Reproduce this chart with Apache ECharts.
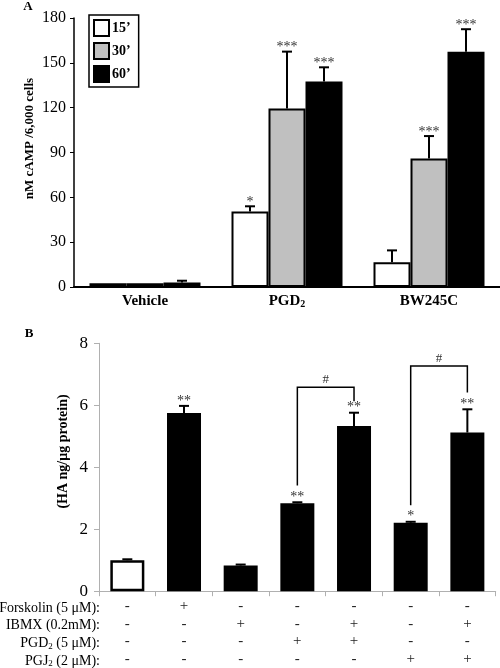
<!DOCTYPE html>
<html><head><meta charset="utf-8">
<script src="https://cdn.jsdelivr.net/npm/echarts@6/dist/echarts.min.js"></script>
<style>html,body{margin:0;padding:0;background:#fff}#c{width:500px;height:668px}</style>
</head><body><div id="c"></div>
<script>
const FONT = '"Liberation Serif", "Times New Roman", serif';

// ---------- Panel A data ----------
const catA = ['Vehicle', 'PGD2', 'BW245C'];
const namesA = ['15’', '30’', '60’'];
const valA15 = [2.5, 50.5, 16.5];
const errA15 = [0, 3.5, 8];
const starA15 = ['', '*', ''];
const valA30 = [2.5, 119.5, 86];
const errA30 = [0, 38, 15];
const starA30 = ['', '***', '***'];
const valA60 = [3, 137.5, 157.5];
const errA60 = [1.2, 9.5, 15];
const starA60 = ['', '***', '***'];
const yTicksA = [0, 30, 60, 90, 120, 150, 180];

// ---------- Panel B data ----------
const catB = ['1', '2', '3', '4', '5', '6', '7'];
const rowForskolin = ['-', '+', '-', '-', '-', '-', '-'];
const rowIBMX      = ['-', '-', '+', '-', '+', '-', '+'];
const rowPGD2      = ['-', '-', '-', '+', '+', '-', '-'];
const rowPGJ2      = ['-', '-', '-', '-', '-', '+', '+'];
const rowNames = ['Forskolin (5 μM):', 'IBMX (0.2mM):', '{t|PGD}{s|2}{t| (5 μM):}', '{t|PGJ}{s|2}{t| (2 μM):}'];
const valB = [1.0, 5.75, 0.83, 2.84, 5.33, 2.21, 5.12];
const errB = [0.03, 0.23, 0.03, 0.03, 0.43, 0.03, 0.75];
const starB = ['', '**', '', '**', '**', '*', '**'];
const yTicksB = [0, 2, 4, 6, 8];
// brackets: [fromIndex, toIndex, topLevel, leftLegEnd, rightLegEnd]
const bracketB = [[3, 4, 6.58, 3.41, 6.13], [5, 6, 7.27, 2.77, 6.41]];
const bracketLabel = ['#', '#'];

// ---------- build ----------
const BAR_A = 37;
const valsA = [valA15, valA30, valA60];
const errsA = [errA15, errA30, errA60];
const starsA = [starA15, starA30, starA60];
const colorsA = ['#ffffff', '#c0c0c0', '#000000'];

const errDataA = [], errStarA = [];
for (let k = 0; k < 3; k++) for (let c = 0; c < catA.length; c++) {
  errDataA.push([c, k, valsA[k][c], errsA[k][c]]);
  errStarA.push(starsA[k][c]);
}
const errDataB = valB.map((v, i) => [i, v, errB[i]]);

function starText(x, y, s) {
  return { type: 'text', x: x, y: y, style: { text: s, align: 'center', verticalAlign: 'bottom', fontSize: 14, fontFamily: FONT, fill: '#333' } };
}

function renderErrA(params, api) {
  const c = api.value(0), k = api.value(1), v = api.value(2), e = api.value(3);
  const base = api.coord([c, v]);
  const top = api.coord([c, v + e]);
  const x = base[0] + (k - 1) * BAR_A;
  const ch = [];
  if (e > 0) {
    ch.push({ type: 'line', shape: { x1: x, y1: base[1], x2: x, y2: top[1] }, style: { stroke: '#000', lineWidth: 2 } });
    ch.push({ type: 'line', shape: { x1: x - 5, y1: top[1], x2: x + 5, y2: top[1] }, style: { stroke: '#000', lineWidth: 2 } });
  }
  const s = errStarA[params.dataIndex];
  if (s) ch.push(starText(x, top[1] + 3, s));
  return { type: 'group', children: ch };
}

function renderErrB(params, api) {
  const c = api.value(0), v = api.value(1), e = api.value(2);
  const base = api.coord([c, v]);
  const top = api.coord([c, v + e]);
  const x = base[0];
  const ch = [];
  ch.push({ type: 'line', shape: { x1: x, y1: base[1], x2: x, y2: top[1] }, style: { stroke: '#000', lineWidth: 2 } });
  ch.push({ type: 'line', shape: { x1: x - 5, y1: top[1], x2: x + 5, y2: top[1] }, style: { stroke: '#000', lineWidth: 2 } });
  const s = starB[params.dataIndex];
  if (s) ch.push(starText(x, top[1] + 2, s));
  return { type: 'group', children: ch };
}

function renderBracket(params, api) {
  const a = api.value(0), b = api.value(1), t = api.value(2), l = api.value(3), r = api.value(4);
  const p1 = api.coord([a, l]), p2 = api.coord([a, t]), p3 = api.coord([b, t]), p4 = api.coord([b, r]);
  return { type: 'group', children: [
    { type: 'polyline', shape: { points: [p1, p2, p3, p4] }, style: { stroke: '#000', lineWidth: 1.5, fill: null } },
    { type: 'text', x: (p2[0] + p3[0]) / 2, y: p2[1] - 1, style: { text: bracketLabel[params.dataIndex], align: 'center', verticalAlign: 'bottom', fontSize: 13, fontFamily: FONT, fill: '#333' } }
  ] };
}

const subRich = {
  b: { fontFamily: FONT, fontWeight: 'bold', fontSize: 15, color: '#000', lineHeight: 16 },
  s: { fontFamily: FONT, fontWeight: 'bold', fontSize: 10, color: '#000', lineHeight: 8, verticalAlign: 'bottom' }
};

const option = {
  animation: false,
  backgroundColor: '#fff',
  textStyle: { fontFamily: FONT },
  legend: {
    data: namesA, orient: 'vertical', left: 89, top: 15,
    itemWidth: 15, itemHeight: 16, itemGap: 5,
    padding: [4, 8, 4, 4],
    borderColor: '#000', borderWidth: 1.5,
    icon: 'rect', selectedMode: false,
    textStyle: { fontFamily: FONT, fontWeight: 'bold', fontSize: 14, color: '#000', padding: [0, 0, 0, -2] }
  },
  grid: [
    { left: 74, top: 18, width: 426, height: 269 },
    { left: 99, top: 343.3, width: 396.7, height: 250 }
  ],
  xAxis: [
    { type: 'category', gridIndex: 0, data: catA,
      axisLine: { lineStyle: { color: '#000', width: 2 } }, axisTick: { show: false },
      axisLabel: { margin: 6, color: '#000', fontFamily: FONT, fontWeight: 'bold', fontSize: 15,
        formatter: v => v === 'PGD2' ? '{b|PGD}{s|2}' : '{b|' + v + '}', rich: subRich } },
    { type: 'category', gridIndex: 1, data: catB,
      axisLine: { lineStyle: { color: '#b0b0b0', width: 1 } },
      axisTick: { show: true, length: 5, lineStyle: { color: '#b0b0b0' } },
      axisLabel: { interval: 0, margin: 6, color: '#222', fontFamily: FONT, fontSize: 15, lineHeight: 17.7,
        formatter: (v, i) => [rowForskolin[i], rowIBMX[i], rowPGD2[i], rowPGJ2[i]].join('\n') } }
  ],
  yAxis: [
    { type: 'value', gridIndex: 0, min: yTicksA[0], max: yTicksA[yTicksA.length - 1], interval: yTicksA[1] - yTicksA[0],
      axisLine: { show: true, lineStyle: { color: '#000', width: 1.5 } },
      axisTick: { show: true, length: 4, lineStyle: { color: '#000' } },
      splitLine: { show: false },
      axisLabel: { margin: 8, color: '#000', fontFamily: FONT, fontSize: 16 } },
    { type: 'value', gridIndex: 1, min: yTicksB[0], max: yTicksB[yTicksB.length - 1], interval: yTicksB[1] - yTicksB[0],
      axisLine: { show: true, lineStyle: { color: '#b0b0b0', width: 1 } },
      axisTick: { show: true, length: 5, lineStyle: { color: '#b0b0b0' } },
      splitLine: { show: false },
      axisLabel: { margin: 11, color: '#000', fontFamily: FONT, fontSize: 17 } }
  ],
  series: [
    ...namesA.map((n, k) => ({
      type: 'bar', name: n, xAxisIndex: 0, yAxisIndex: 0, data: valsA[k],
      barWidth: BAR_A, barGap: '0%',
      itemStyle: { color: colorsA[k], borderColor: '#000', borderWidth: 2 }, z: 2
    })),
    { type: 'custom', xAxisIndex: 0, yAxisIndex: 0, data: errDataA, renderItem: renderErrA, z: 5 },
    { type: 'bar', xAxisIndex: 1, yAxisIndex: 1, barWidth: 34,
      data: valB.map((v, i) => i === 0
        ? { value: v, itemStyle: { color: '#fff', borderColor: '#000', borderWidth: 2.5 } }
        : { value: v, itemStyle: { color: '#000', borderColor: '#000', borderWidth: 0 } }), z: 2 },
    { type: 'custom', xAxisIndex: 1, yAxisIndex: 1, data: errDataB, renderItem: renderErrB, z: 5 },
    { type: 'custom', xAxisIndex: 1, yAxisIndex: 1, data: bracketB, renderItem: renderBracket, z: 5 }
  ],
  graphic: [
    { type: 'text', x: 28, y: 7, style: { text: 'A', align: 'center', verticalAlign: 'middle', fontFamily: FONT, fontWeight: 'bold', fontSize: 13, fill: '#000' } },
    { type: 'text', x: 29, y: 334, style: { text: 'B', align: 'center', verticalAlign: 'middle', fontFamily: FONT, fontWeight: 'bold', fontSize: 13, fill: '#000' } },
    { type: 'text', x: 30, y: 138.5, rotation: Math.PI / 2, style: { text: 'nM cAMP /6,000 cells', align: 'center', verticalAlign: 'middle', fontFamily: FONT, fontWeight: 'bold', fontSize: 13, fill: '#000' } },
    { type: 'text', x: 63, y: 451.5, rotation: Math.PI / 2, style: { text: '(HA ng/μg protein)', align: 'center', verticalAlign: 'middle', fontFamily: FONT, fontWeight: 'bold', fontSize: 14, fill: '#000' } },
    ...rowNames.map((t, i) => ({
      type: 'text', x: 100, y: 608 + i * 17.7,
      style: { text: t, align: 'right', verticalAlign: 'middle', fontFamily: FONT, fontSize: 14, fill: '#000',
        rich: { t: { fontFamily: FONT, fontSize: 14, fill: '#000', lineHeight: 15 },
                s: { fontFamily: FONT, fontSize: 9, fill: '#000', lineHeight: 7, verticalAlign: 'bottom' } } }
    }))
  ]
};

const chart = echarts.init(document.getElementById('c'), null, { renderer: 'canvas' });
chart.setOption(option);
</script>
</body></html>
